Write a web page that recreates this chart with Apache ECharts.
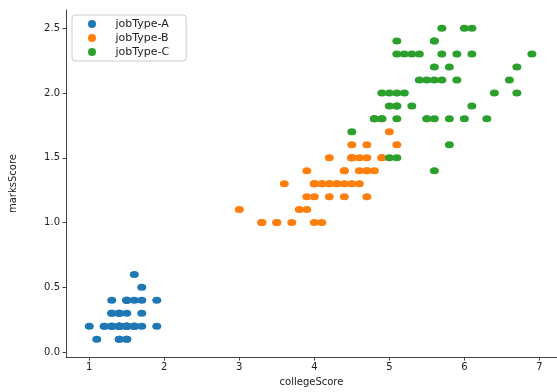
<!DOCTYPE html>
<html>
<head>
<meta charset="utf-8">
<script src="https://cdn.jsdelivr.net/npm/echarts@6/dist/echarts.min.js"></script>
<style>
  html, body { margin: 0; padding: 0; background: #fff; }
  #chart { width: 557px; height: 392px; }
</style>
</head>
<body>
<div id="chart"></div>
<script>
// jobType-A
const collegeA = [1.4, 1.4, 1.3, 1.5, 1.4, 1.7, 1.4, 1.5, 1.4, 1.5, 1.5, 1.6, 1.4, 1.1, 1.2, 1.5, 1.3, 1.4, 1.7, 1.5, 1.7, 1.5, 1.0, 1.7, 1.9, 1.6, 1.6, 1.5, 1.4, 1.6, 1.6, 1.5, 1.5, 1.4, 1.5, 1.2, 1.3, 1.4, 1.3, 1.5, 1.3, 1.3, 1.3, 1.6, 1.9, 1.4, 1.6, 1.4, 1.5, 1.4];
const marksA   = [0.2, 0.2, 0.2, 0.2, 0.2, 0.4, 0.3, 0.2, 0.2, 0.1, 0.2, 0.2, 0.1, 0.1, 0.2, 0.4, 0.4, 0.3, 0.3, 0.3, 0.2, 0.4, 0.2, 0.5, 0.2, 0.2, 0.4, 0.2, 0.2, 0.2, 0.2, 0.4, 0.1, 0.2, 0.2, 0.2, 0.2, 0.1, 0.2, 0.2, 0.3, 0.3, 0.2, 0.6, 0.4, 0.3, 0.2, 0.2, 0.2, 0.2];
// jobType-B
const collegeB = [4.7, 4.5, 4.9, 4.0, 4.6, 4.5, 4.7, 3.3, 4.6, 3.9, 3.5, 4.2, 4.0, 4.7, 3.6, 4.4, 4.5, 4.1, 4.5, 3.9, 4.8, 4.0, 4.9, 4.7, 4.3, 4.4, 4.8, 5.0, 4.5, 3.5, 3.8, 3.7, 3.9, 5.1, 4.5, 4.5, 4.7, 4.4, 4.1, 4.0, 4.4, 4.6, 4.0, 3.3, 4.2, 4.2, 4.2, 4.3, 3.0, 4.1];
const marksB   = [1.4, 1.5, 1.5, 1.3, 1.5, 1.3, 1.6, 1.0, 1.3, 1.4, 1.0, 1.5, 1.0, 1.4, 1.3, 1.4, 1.5, 1.0, 1.5, 1.1, 1.8, 1.3, 1.5, 1.2, 1.3, 1.4, 1.4, 1.7, 1.5, 1.0, 1.1, 1.0, 1.2, 1.6, 1.5, 1.6, 1.5, 1.3, 1.3, 1.3, 1.2, 1.4, 1.2, 1.0, 1.3, 1.2, 1.3, 1.3, 1.1, 1.3];
// jobType-C
const collegeC = [6.0, 5.1, 5.9, 5.6, 5.8, 6.6, 4.5, 6.3, 5.8, 6.1, 5.1, 5.3, 5.5, 5.0, 5.1, 5.3, 5.5, 6.7, 6.9, 5.0, 5.7, 4.9, 6.7, 4.9, 5.7, 6.0, 4.8, 4.9, 5.6, 5.8, 6.1, 6.4, 5.6, 5.1, 5.6, 6.1, 5.6, 5.5, 4.8, 5.4, 5.6, 5.1, 5.1, 5.9, 5.7, 5.2, 5.0, 5.2, 5.4, 5.1];
const marksC   = [2.5, 1.9, 2.1, 1.8, 2.2, 2.1, 1.7, 1.8, 1.8, 2.5, 2.0, 1.9, 2.1, 2.0, 2.4, 2.3, 1.8, 2.2, 2.3, 1.5, 2.3, 2.0, 2.0, 1.8, 2.1, 1.8, 1.8, 1.8, 2.1, 1.6, 1.9, 2.0, 2.2, 1.5, 1.4, 2.3, 2.4, 1.8, 1.8, 2.1, 2.4, 2.3, 1.9, 2.3, 2.5, 2.3, 1.9, 2.0, 2.3, 1.8];

const seriesNames = ['jobType-A', 'jobType-B', 'jobType-C'];
const seriesColors = ['#1f77b4', '#ff7f0e', '#2ca02c'];
const xTicks = [1, 2, 3, 4, 5, 6, 7];
const yTicks = [0, 0.5, 1.0, 1.5, 2.0, 2.5];

const pairs = (xs, ys) => xs.map((x, i) => [x, ys[i]]);
const allX = [collegeA, collegeB, collegeC];
const allY = [marksA, marksB, marksC];

const chart = echarts.init(document.getElementById('chart'), null, { renderer: 'canvas' });

const axisColor = '#444';
const font = 'DejaVu Sans';

const option = {
  backgroundColor: '#fff',
  animation: false,
  textStyle: { fontFamily: font },
  grid: { left: 65, right: 0, top: 10, bottom: 31 },
  legend: {
    left: 72,
    top: 15,
    orient: 'vertical',
    padding: [2, 17, 2, 16],
    itemGap: 0,
    itemWidth: 9,
    itemHeight: 8,
    icon: 'circle',
    borderColor: '#cccccc',
    borderWidth: 1,
    borderRadius: 3,
    textStyle: { fontFamily: font, fontSize: 11, color: '#222', lineHeight: 14, padding: [0, 0, 0, 14] },
    data: seriesNames
  },
  xAxis: {
    type: 'value',
    min: 0.69,
    max: 7.235,
    name: 'collegeScore',
    nameLocation: 'middle',
    nameGap: 19,
    nameTextStyle: { fontFamily: font, fontSize: 10, color: '#222' },
    splitLine: { show: false },
    axisLine: { onZero: false, lineStyle: { color: axisColor, width: 1 } },
    axisTick: { length: 3.5, lineStyle: { color: axisColor }, customValues: xTicks },
    axisLabel: { fontFamily: font, fontSize: 10, color: '#222', margin: 5, customValues: xTicks, formatter: v => String(v) }
  },
  yAxis: {
    type: 'value',
    min: -0.038,
    max: 2.64,
    name: 'marksScore',
    nameLocation: 'middle',
    nameGap: 48,
    nameRotate: 90,
    nameTextStyle: { fontFamily: font, fontSize: 10, color: '#222' },
    splitLine: { show: false },
    axisLine: { onZero: false, lineStyle: { color: axisColor, width: 1 } },
    axisTick: { length: 3.5, lineStyle: { color: axisColor }, customValues: yTicks },
    axisLabel: { fontFamily: font, fontSize: 10, color: '#222', margin: 6, customValues: yTicks, formatter: v => v.toFixed(1) }
  },
  series: seriesNames.map((name, i) => ({
    name: name,
    type: 'scatter',
    symbol: 'circle',
    symbolSize: [9, 7],
    itemStyle: { color: seriesColors[i], opacity: 1 },
    data: pairs(allX[i], allY[i])
  }))
};

chart.setOption(option);
</script>
</body>
</html>
